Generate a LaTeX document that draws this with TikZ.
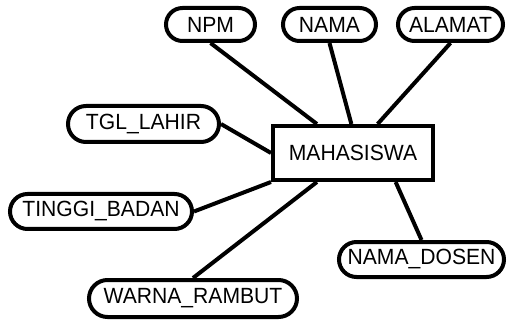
\documentclass[tikz,border=0pt]{standalone}
\usepackage{fontspec}
\setmainfont[FakeStretch=0.96]{Liberation Sans}
\usetikzlibrary{shapes.misc,calc}
\begin{document}
\begin{tikzpicture}[x=1pt,y=-1pt,
  every node/.style={font=\fontsize{22}{26}\selectfont, inner sep=0pt},
  attr/.style={draw, line width=4pt, rounded rectangle, minimum height=#1},
  attr/.default=33pt,
  entity/.style={draw, line width=4pt, rectangle, minimum width=160pt, minimum height=54pt},
  link/.style={line width=4pt}]
  \useasboundingbox (0,0) rectangle (508,320);

  % entity
  \node[entity] (mhs) at (353,153) {MAHASISWA};

  % attributes
  \node[attr, minimum width=89pt] (npm) at (210.5,24.5) {NPM};
  \node[attr, minimum width=93pt] (nama) at (329.5,24.5) {NAMA};
  \node[attr, minimum width=105pt] (alamat) at (450.5,24.5) {ALAMAT};
  \node[attr=36pt, minimum width=151pt] (tgl) at (143.5,124) {TGL\_LAHIR};
  \node[attr=35pt, minimum width=182pt] (tinggi) at (101,211.5) {TINGGI\_BADAN};
  \node[attr=35pt, minimum width=165pt] (dosen) at (421.5,259.5) {NAMA\_DOSEN};
  \node[attr=37pt, minimum width=208pt] (warna) at (193,298.5) {WARNA\_RAMBUT};

  % connectors
  \draw[link] (npm.south) -- ($(mhs.north west)!0.28!(mhs.north east)$);
  \draw[link] (nama.south) -- ($(mhs.north west)!0.49!(mhs.north east)$);
  \draw[link] (alamat.south) -- ($(mhs.north west)!0.65!(mhs.north east)$);
  \draw[link] (tgl.east) -- (mhs.west);
  \draw[link] (tinggi.east) -- (mhs.south west);
  \draw[link] (warna.north) -- ($(mhs.south west)!0.28!(mhs.south east)$);
  \draw[link] (dosen.north) -- ($(mhs.south west)!0.76!(mhs.south east)$);
\end{tikzpicture}
\end{document}
